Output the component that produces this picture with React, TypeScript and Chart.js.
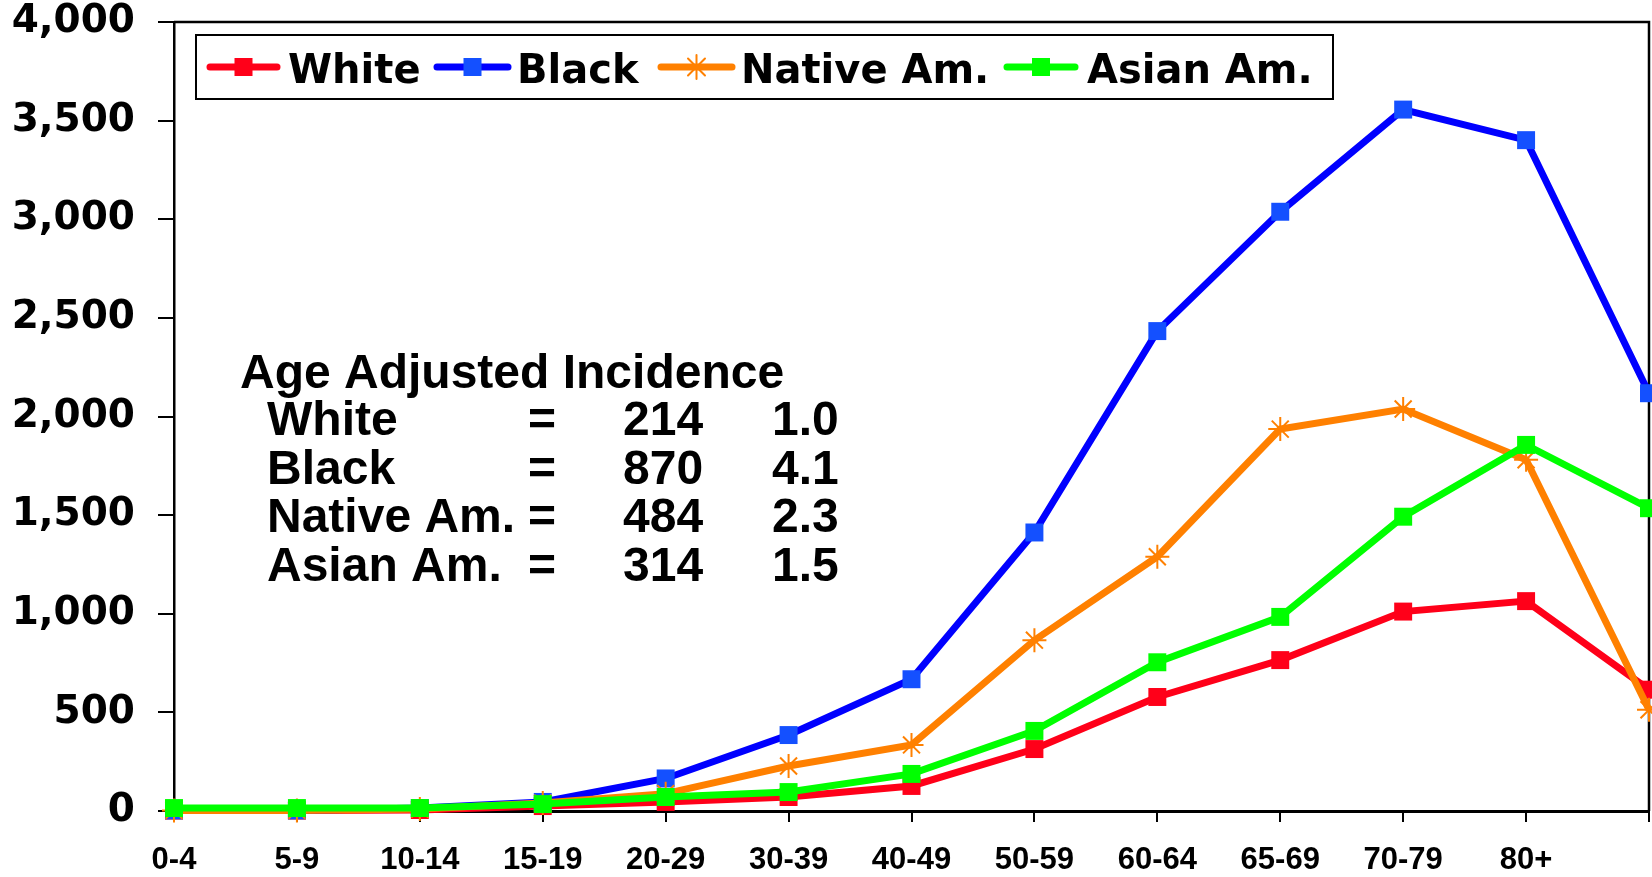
import React, { useEffect, useRef } from 'react';
import { Chart, registerables } from 'chart.js';

Chart.register(...registerables);

const categories = ['0-4', '5-9', '10-14', '15-19', '20-29', '30-39', '40-49', '50-59', '60-64', '65-69', '70-79', '80+', ''];
const whiteValues = [2, 2, 5, 25, 46, 71, 127, 314, 578, 765, 1011, 1064, 615];
const blackValues = [3, 3, 15, 46, 165, 385, 668, 1412, 2433, 3038, 3556, 3401, 2118];
const nativeValues = [3, 3, 10, 40, 88, 228, 335, 866, 1289, 1936, 2038, 1781, 513];
const asianValues = [15, 15, 15, 35, 71, 96, 188, 406, 754, 984, 1492, 1856, 1535];

const seriesNames = ['White', 'Black', 'Native Am.', 'Asian Am.'];
const lineColors = ['#ff0019', '#0000ff', '#ff8000', '#00ff00'];
const markerColors = ['#ff0019', '#1450ff', '#ff8000', '#00ff00'];
const markerStyles = ['rect', 'rect', 'star', 'rect'];

const noteTitle = 'Age Adjusted Incidence';
const noteNames = ['White', 'Black', 'Native Am.', 'Asian Am.'];
const noteRates = ['214', '870', '484', '314'];
const noteRatios = ['1.0', '4.1', '2.3', '1.5'];

const yMin = 0;
const yMax = 4000;
const yStep = 500;

function drawMarker(ctx: CanvasRenderingContext2D, style: string, x: number, y: number, color: string) {
  ctx.save();
  if (style === 'star') {
    const r = 12;
    ctx.strokeStyle = color;
    ctx.lineWidth = 2;
    ctx.beginPath();
    for (let i = 0; i < 4; i++) {
      const a = (i * Math.PI) / 4;
      ctx.moveTo(x - r * Math.cos(a), y - r * Math.sin(a));
      ctx.lineTo(x + r * Math.cos(a), y + r * Math.sin(a));
    }
    ctx.stroke();
  } else {
    ctx.fillStyle = color;
    ctx.fillRect(x - 9, y - 9, 18, 18);
  }
  ctx.restore();
}

const framePlugin = {
  id: 'frame',
  beforeDatasetsDraw(chart: any) {
    const { ctx, chartArea } = chart;
    ctx.save();
    ctx.strokeStyle = '#000';
    ctx.lineWidth = 2.5;
    ctx.beginPath();
    ctx.moveTo(chartArea.left, chartArea.top);
    ctx.lineTo(chartArea.right, chartArea.top);
    ctx.lineTo(chartArea.right, chartArea.bottom);
    ctx.stroke();
    ctx.restore();
  },
};

const overlayPlugin = {
  id: 'overlay',
  afterDraw(chart: any) {
    const ctx: CanvasRenderingContext2D = chart.ctx;
    ctx.save();
    ctx.fillStyle = '#fff';
    ctx.fillRect(196, 35, 1137, 64);
    ctx.strokeStyle = '#000';
    ctx.lineWidth = 2;
    ctx.strokeRect(196, 35, 1137, 64);
    const symX = [[210, 277], [437, 508], [661, 732], [1007, 1075]];
    const textX = [288, 517, 741, 1087];
    ctx.font = 'bold 40px "DejaVu Sans"';
    ctx.textBaseline = 'alphabetic';
    ctx.textAlign = 'left';
    seriesNames.forEach((name, i) => {
      const [x1, x2] = symX[i];
      ctx.strokeStyle = lineColors[i];
      ctx.lineWidth = 7;
      ctx.lineCap = 'round';
      ctx.beginPath();
      ctx.moveTo(x1, 67);
      ctx.lineTo(x2, 67);
      ctx.stroke();
      drawMarker(ctx, markerStyles[i], (x1 + x2) / 2, 67, markerColors[i]);
      ctx.fillStyle = '#000';
      ctx.fillText(name, textX[i], 83);
    });
    ctx.fillStyle = '#000';
    ctx.font = 'bold 48px "Liberation Sans", Arial, sans-serif';
    ctx.fillText(noteTitle, 240, 388);
    const baselines = [435, 484, 532, 581];
    noteNames.forEach((n, i) => {
      ctx.fillText(n, 267, baselines[i]);
      ctx.fillText('=', 528, baselines[i]);
      ctx.fillText(noteRates[i], 623, baselines[i]);
      ctx.fillText(noteRatios[i], 772, baselines[i]);
    });
    ctx.restore();
  },
};

function clearScalePadding(s: any) {
  s.paddingTop = 0;
  s.paddingBottom = 0;
  s.paddingLeft = 0;
  s.paddingRight = 0;
}

export default function App() {
  const canvasRef = useRef<HTMLCanvasElement | null>(null);

  useEffect(() => {
    const canvas = canvasRef.current;
    if (!canvas) return;
    const valueSets = [whiteValues, blackValues, nativeValues, asianValues];
    const orders = [3, 2, 1, 0];
    const chart = new Chart(canvas, {
      type: 'line',
      data: {
        labels: categories,
        datasets: seriesNames.map((name, i) => ({
          label: name,
          data: valueSets[i],
          borderColor: lineColors[i],
          backgroundColor: markerColors[i],
          borderWidth: 7,
          pointStyle: markerStyles[i] as any,
          pointRadius: markerStyles[i] === 'star' ? 12 : 12.7,
          pointBackgroundColor: markerColors[i],
          pointBorderColor: markerColors[i],
          pointBorderWidth: markerStyles[i] === 'star' ? 2 : 0,
          tension: 0,
          clip: false as any,
          order: orders[i],
        })),
      },
      options: {
        animation: false,
        responsive: false,
        maintainAspectRatio: false,
        layout: { autoPadding: false, padding: { top: 22, right: 3, left: 0, bottom: 0 } },
        plugins: {
          legend: { display: false },
          tooltip: { enabled: false },
          title: { display: false },
        },
        scales: {
          x: {
            type: 'category',
            offset: false,
            grid: {
              drawOnChartArea: false,
              drawTicks: true,
              tickLength: 11,
              color: '#000',
              lineWidth: 2,
            },
            border: { display: true, color: '#000', width: 3 },
            ticks: {
              color: '#000',
              autoSkip: false,
              maxRotation: 0,
              minRotation: 0,
              padding: 0,
              font: { family: '"Liberation Sans", Arial, sans-serif', weight: 'bold', size: 31, lineHeight: 2.45 },
            },
            afterFit: (s: any) => {
              s.height = 66;
              clearScalePadding(s);
            },
          },
          y: {
            min: yMin,
            max: yMax,
            grid: {
              drawOnChartArea: false,
              drawTicks: true,
              tickLength: 16,
              color: '#000',
              lineWidth: 2,
            },
            border: { display: true, color: '#000', width: 2.5 },
            ticks: {
              stepSize: yStep,
              color: '#000',
              padding: 23,
              font: { family: '"DejaVu Sans", sans-serif', weight: 'bold', size: 39, lineHeight: 1 },
              callback: (v: any) => Number(v).toLocaleString('en-US'),
            },
            afterFit: (s: any) => {
              s.width = 174;
              clearScalePadding(s);
            },
          },
        },
      },
      plugins: [framePlugin, overlayPlugin],
    });
    return () => chart.destroy();
  }, []);

  return (
    <div style={{ position: 'absolute', left: 0, top: 0, width: 1652, height: 877, background: '#fff' }}>
      <canvas ref={canvasRef} width={1652} height={877} style={{ display: 'block', width: 1652, height: 877 }} />
    </div>
  );
}
